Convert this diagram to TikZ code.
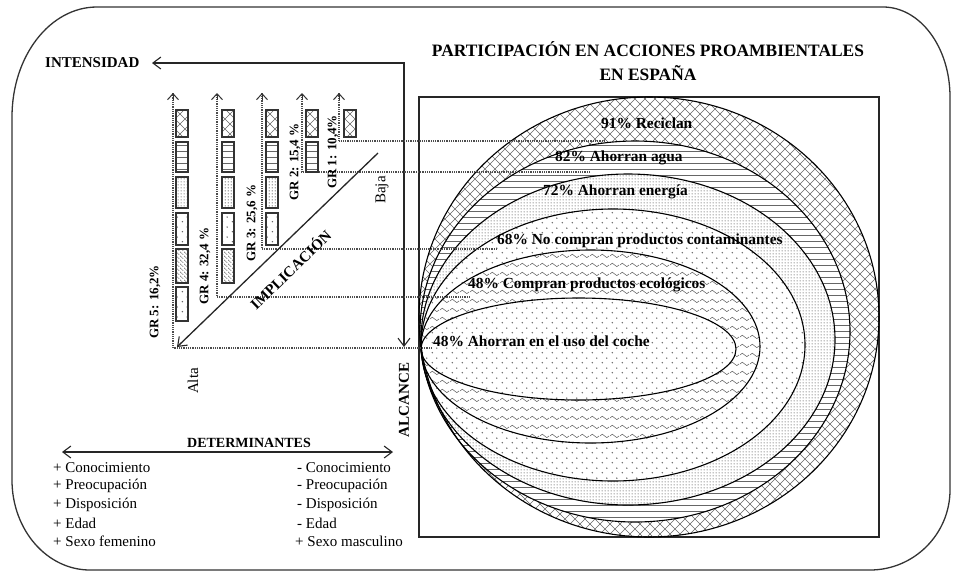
\documentclass[tikz,border=0pt]{standalone}
\usepackage{fontspec}
\setmainfont{Liberation Serif}
\usetikzlibrary{arrows.meta,patterns,calc}

\pgfdeclarepatternformonly{diagx}{\pgfqpoint{-1pt}{-1pt}}{\pgfqpoint{11pt}{11pt}}{\pgfqpoint{10pt}{10pt}}{%
  \pgfsetlinewidth{0.6pt}%
  \pgfpathmoveto{\pgfqpoint{0pt}{0pt}}\pgfpathlineto{\pgfqpoint{10pt}{10pt}}%
  \pgfpathmoveto{\pgfqpoint{0pt}{10pt}}\pgfpathlineto{\pgfqpoint{10pt}{0pt}}%
  \pgfusepath{stroke}}
\pgfdeclarepatternformonly{hlin}{\pgfqpoint{-1pt}{0pt}}{\pgfqpoint{7pt}{6pt}}{\pgfqpoint{6pt}{6pt}}{%
  \pgfsetlinewidth{0.65pt}%
  \pgfpathmoveto{\pgfqpoint{-1pt}{3pt}}\pgfpathlineto{\pgfqpoint{7pt}{3pt}}%
  \pgfusepath{stroke}}
\pgfdeclarepatternformonly{fdots}{\pgfqpoint{0pt}{0pt}}{\pgfqpoint{2.6pt}{2.6pt}}{\pgfqpoint{2.6pt}{2.6pt}}{%
  \pgfpathcircle{\pgfqpoint{1.3pt}{1.3pt}}{0.75pt}\pgfusepath{fill}}
\pgfdeclarepatternformonly{sdots}{\pgfqpoint{0pt}{0pt}}{\pgfqpoint{10pt}{10pt}}{\pgfqpoint{10pt}{10pt}}{%
  \pgfpathcircle{\pgfqpoint{2.5pt}{2.5pt}}{0.85pt}%
  \pgfpathcircle{\pgfqpoint{7.5pt}{7.5pt}}{0.85pt}\pgfusepath{fill}}
\pgfdeclarepatternformonly{wavy}{\pgfqpoint{0pt}{0pt}}{\pgfqpoint{10pt}{9pt}}{\pgfqpoint{10pt}{9pt}}{%
  \pgfsetlinewidth{0.6pt}%
  \pgfpathmoveto{\pgfqpoint{0pt}{4.5pt}}%
  \pgfpathcurveto{\pgfqpoint{1.7pt}{7pt}}{\pgfqpoint{3.3pt}{7pt}}{\pgfqpoint{5pt}{4.5pt}}%
  \pgfpathcurveto{\pgfqpoint{6.7pt}{2pt}}{\pgfqpoint{8.3pt}{2pt}}{\pgfqpoint{10pt}{4.5pt}}%
  \pgfusepath{stroke}}
\pgfdeclarepatternformonly{dhatch}{\pgfqpoint{0pt}{0pt}}{\pgfqpoint{4pt}{4pt}}{\pgfqpoint{4pt}{4pt}}{%
  \pgfsetlinewidth{0.55pt}%
  \pgfpathmoveto{\pgfqpoint{-0.5pt}{4.5pt}}\pgfpathlineto{\pgfqpoint{4.5pt}{-0.5pt}}%
  \pgfusepath{stroke}}

\tikzset{
  bigtip/.tip={Straight Barb[length=8pt,width=12pt,line width=1.1pt]},
  smalltip/.tip={Straight Barb[length=6pt,width=11pt,line width=1pt]}
}

\begin{document}
\begin{tikzpicture}[x=1pt,y=-1pt,
  frameline/.style={line width=1.3pt, draw=black!80},
  boxline/.style={line width=1.1pt, draw=black!85},
  ell/.style={line width=1.1pt, draw=black},
  dotline/.style={line width=1.1pt, draw=black!70, dash pattern=on 1pt off 0.8pt},
  pcol/.style={pattern color=black!60},
  barbox/.style={line width=1.3pt, draw=black!80, pattern color=black!60},
  smallbarb/.style={-{smalltip}, draw=black!80},
  axisline/.style={line width=1.1pt, draw=black!85},
  ttl/.style={font=\fontsize{17.4}{19}\selectfont\bfseries, inner sep=0pt},
  bl/.style={font=\fontsize{15}{17}\selectfont\bfseries, inner sep=0pt},
  grl/.style={font=\fontsize{13}{15}\selectfont\bfseries, inner sep=0pt, rotate=90},
  rl/.style={font=\fontsize{15}{17}\selectfont, inner sep=0pt},
  el/.style={font=\fontsize{15.4}{17}\selectfont\bfseries, inner sep=0pt, anchor=west}
]
\useasboundingbox (0,0) rectangle (954,574);
\fill[white] (0,0) rectangle (954,574);

% outer frame
\draw[frameline] (97,7) -- (883,7) .. controls (920,7) and (950,47) .. (950,97)
  -- (950,490) .. controls (950,534) and (914,570) .. (870,570)
  -- (90,570) .. controls (47,570) and (12,530) .. (12,480)
  -- (12,117) .. controls (12,56) and (50,7) .. (97,7) -- cycle;

% title
\node[ttl] (t1) at (648,49) {PARTICIPACIÓN EN ACCIONES PROAMBIENTALES};
\node[ttl] (t2) at (648,73) {EN ESPAÑA};

% box
\draw[boxline] (419,97) rectangle (879,537);

% ellipses fills
\path[pcol, pattern=diagx] (649,317) ellipse [x radius=230, y radius=220];
\fill[white] (635,331.5) ellipse [x radius=215, y radius=190.5];
\path[pcol, pattern=hlin] (635,331.5) ellipse [x radius=215, y radius=190.5];
\fill[white] (628,339.5) ellipse [x radius=207, y radius=165.5];
\path[pattern color=black!45, pattern=fdots] (628,339.5) ellipse [x radius=207, y radius=165.5];
\fill[white] (613,345) ellipse [x radius=192, y radius=136];
\path[pcol, pattern=sdots] (613,345) ellipse [x radius=192, y radius=136];
\fill[white] (590.5,346.5) ellipse [x radius=169.5, y radius=96.5];
\path[pcol, pattern=wavy] (590.5,346.5) ellipse [x radius=169.5, y radius=96.5];
\fill[white] (578.5,349) ellipse [x radius=157.5, y radius=51];
\path[pcol, pattern=sdots] (578.5,349) ellipse [x radius=157.5, y radius=51];
% ellipse outlines
\draw[ell] (649,317) ellipse [x radius=230, y radius=220];
\draw[ell] (635,331.5) ellipse [x radius=215, y radius=190.5];
\draw[ell] (628,339.5) ellipse [x radius=207, y radius=165.5];
\draw[ell] (613,345) ellipse [x radius=192, y radius=136];
\draw[ell] (590.5,346.5) ellipse [x radius=169.5, y radius=96.5];
\draw[ell] (578.5,349) ellipse [x radius=157.5, y radius=51];

% intensity / reach axes
\node[bl, anchor=west] (int) at (45,63) {INTENSIDAD};
\node[bl, rotate=90] (alc) at (404,400) {ALCANCE};
\coordinate (inttip) at (152,63);
\coordinate (axcorner) at (404,63);
\coordinate (alctip) at (404,347);
\draw[axisline, {bigtip}-{bigtip}] (inttip) -- (axcorner) -- (alctip);

% bars: arrows and dotted connectors
\coordinate (g5top) at (173,93); \coordinate (g5c) at (173,348); \coordinate (g5e) at (432,348);
\coordinate (g4top) at (217,93); \coordinate (g4c) at (217,297); \coordinate (g4e) at (470,297);
\coordinate (g3top) at (262,93); \coordinate (g3c) at (262,249); \coordinate (g3e) at (497,249);
\coordinate (g2top) at (302,93); \coordinate (g2c) at (302,172); \coordinate (g2e) at (590,172);
\coordinate (g1top) at (339,93); \coordinate (g1c) at (339,141); \coordinate (g1e) at (605,141);
\foreach \g in {1,...,5}{
  \draw[dotline] (g\g e) -- (g\g c) -- (g\g top);
  \draw[smallbarb] ($(g\g top)+(0,7)$) -- (g\g top);
}

% bar boxes
\foreach \x/\n in {176/6, 222/5, 266/4, 306/2, 344/1}{
  \draw[barbox, pattern=diagx] (\x,110) rectangle ++(12,27);
  \ifnum\n>1 \draw[barbox, pattern=hlin] (\x,142) rectangle ++(12,30); \fi
  \ifnum\n>2 \draw[barbox, pattern color=black!45, pattern=fdots] (\x,177) rectangle ++(12,31); \fi
  \ifnum\n>3 \draw[barbox, pattern=sdots] (\x,213) rectangle ++(12,32); \fi
  \ifnum\n>4 \draw[barbox, pattern=dhatch] (\x,249) rectangle ++(12,34); \fi
  \ifnum\n>5 \draw[barbox, pattern=sdots] (\x,287) rectangle ++(12,34); \fi
}

% group labels
\node[grl] (gr5) at (155,302) {GR 5: 16,2\%};
\node[grl] (gr4) at (205,266) {GR 4: 32,4 \%};
\node[grl] (gr3) at (252,223) {GR 3: 25,6 \%};
\node[grl] (gr2) at (295,162) {GR 2: 15,4 \%};
\node[grl] (gr1) at (333,152) {GR 1: 10,4\%};
\node[rl, rotate=90] (baja) at (382,190) {Baja};
\node[rl, rotate=90] (alta) at (193,381) {Alta};

% implication arrow
\coordinate (dtop) at (378,153);
\coordinate (dtip) at (177,347);
\draw[axisline, line width=1.3pt, -{bigtip}] (dtop) -- (dtip);
\node[bl, rotate=44] (impl) at (290,269) {IMPLICACIÓN};

% ellipse labels
\node[el] (l1) at (601,123) {91\% Reciclan};
\node[el] (l2) at (555,158) {82\% Ahorran agua};
\node[el] (l3) at (543,192) {72\% Ahorran energía};
\node[el] (l4) at (497,241) {68\% No compran productos contaminantes};
\node[el] (l5) at (468,285) {48\% Compran productos ecológicos};
\node[el] (l6) at (433,341) {48\% Ahorran en el uso del coche};

% determinants
\node[font=\fontsize{14}{16}\selectfont\bfseries, inner sep=0pt] (det) at (249,443) {DETERMINANTES};
\coordinate (dl) at (62,452);
\coordinate (dr) at (393,452);
\draw[axisline, {bigtip}-{bigtip}] (dl) -- (dr);

\node[rl, anchor=west] (a1) at (53,468) {+ Conocimiento};
\node[rl, anchor=west] (a2) at (53,486) {+ Preocupación};
\node[rl, anchor=west] (a3) at (53,504.5) {+ Disposición};
\node[rl, anchor=west] (a4) at (53,523) {+ Edad};
\node[rl, anchor=west] (a5) at (53,541) {+ Sexo femenino};
\node[rl, anchor=west] (b1) at (297,468) {- Conocimiento};
\node[rl, anchor=west] (b2) at (297,486) {- Preocupación};
\node[rl, anchor=west] (b3) at (297,504.5) {- Disposición};
\node[rl, anchor=west] (b4) at (297,523) {- Edad};
\node[rl, anchor=west] (b5) at (295,541) {+ Sexo masculino};
\end{tikzpicture}
\end{document}
